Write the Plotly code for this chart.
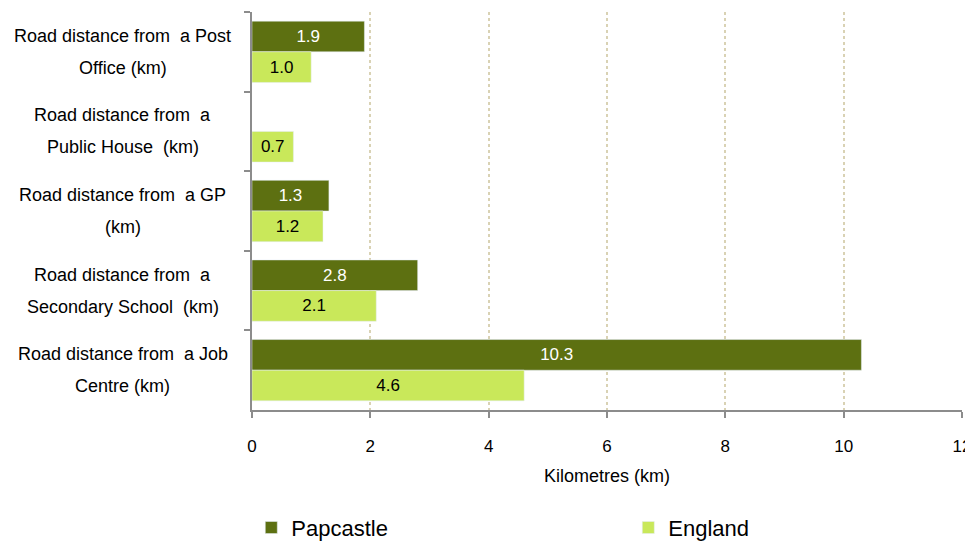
import plotly.graph_objects as go

categories = ['Post Office', 'Public House', 'GP', 'Secondary School', 'Job Centre']
label_line1 = ['Road distance from  a Post', 'Road distance from  a', 'Road distance from  a GP',
               'Road distance from  a', 'Road distance from  a Job']
label_line2 = ['Office (km)', 'Public House  (km)', '(km)', 'Secondary School  (km)', 'Centre (km)']
papcastle = [1.9, None, 1.3, 2.8, 10.3]
england = [1.0, 0.7, 1.2, 2.1, 4.6]

dark = '#5d7011'
light = '#c9e85a'
font = 'Liberation Sans, Arial, sans-serif'

fig = go.Figure()
fig.add_trace(go.Bar(y=categories, x=papcastle, name='Papcastle', orientation='h',
                     marker=dict(color=dark), text=[None if v is None else f'{v:.1f}' for v in papcastle],
                     textposition='inside', insidetextanchor='middle',
                     textfont=dict(color='white', size=17, family=font)))
fig.add_trace(go.Bar(y=categories, x=england, name='England', orientation='h',
                     marker=dict(color=light), text=[f'{v:.1f}' for v in england],
                     textposition='inside', insidetextanchor='middle',
                     textfont=dict(color='black', size=17, family=font)))

# two-line centred category labels
for c, a, b in zip(categories, label_line1, label_line2):
    a = a.replace('  ', '&nbsp; ')
    b = b.replace('  ', '&nbsp; ')
    fig.add_annotation(x=-0.182, xref='paper', y=c, yref='y', text=a, showarrow=False,
                       xanchor='center', yshift=16, font=dict(size=18, family=font, color='black'))
    fig.add_annotation(x=-0.182, xref='paper', y=c, yref='y', text=b, showarrow=False,
                       xanchor='center', yshift=-16, font=dict(size=18, family=font, color='black'))

# page body has an 8px margin, so the figure is 8px smaller and margins shifted
fig.update_layout(
    width=965, height=534,
    margin=dict(l=244, r=11, t=4, b=132, autoexpand=False),
    plot_bgcolor='white', paper_bgcolor='white',
    barmode='group', bargap=0.23, bargroupgap=0,
    font=dict(family=font, size=17, color='black'),
    uniformtext=dict(minsize=17, mode='show'),
    legend=dict(orientation='h', x=-0.001, xanchor='left', y=-0.243, yanchor='top',
                entrywidth=332, font=dict(size=22, family=font), bgcolor='rgba(0,0,0,0)',
                traceorder='normal'),
)
fig.update_xaxes(range=[0, 12], dtick=2, showgrid=True, griddash='dot', gridcolor='#d9d2b4',
                 gridwidth=1.5, showline=True, linecolor='#8c8c8c', linewidth=2,
                 ticks='outside', ticklen=6, tickcolor='#8c8c8c', tickwidth=2,
                 zeroline=False, tickfont=dict(size=17), ticklabelstandoff=14,
                 title=dict(text='Kilometres (km)', font=dict(size=18), standoff=14))
fig.update_yaxes(autorange='reversed', showticklabels=False, showline=True, linecolor='#8c8c8c',
                 linewidth=2, ticks='outside', ticklen=6, tickcolor='#8c8c8c', tickwidth=2,
                 tickson='boundaries', showgrid=False)

fig.write_html('out.html')
